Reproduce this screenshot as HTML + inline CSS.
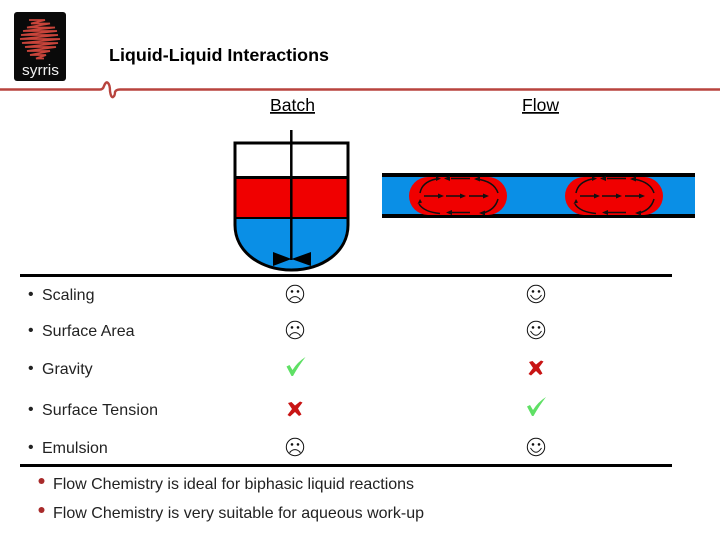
<!DOCTYPE html>
<html><head><meta charset="utf-8"><style>
html,body{margin:0;padding:0;background:#fff}
svg{display:block}
text{font-family:"Liberation Sans",sans-serif;fill:#000}
.r{font-size:16px;fill:#222}
</style></head><body>
<svg width="720" height="540" viewBox="0 0 720 540" xmlns="http://www.w3.org/2000/svg">
<defs>
<g id="face" fill="none" stroke="#111" stroke-width="1"><circle r="8.700"/><circle cx="-3" cy="-2.600" r=".8" fill="#111"/><circle cx="3" cy="-2.600" r=".8" fill="#111"/></g>
<g id="sad"><use href="#face"/><path d="M-5 6V5Q0 .2 5 5V6" fill="none" stroke="#111"/></g>
<g id="happy"><use href="#face"/><path d="M-5.500 1Q0 9.500 5.500 1" fill="none" stroke="#111"/></g>
<path id="chk" d="M0 9.500L3 8L6 13Q11 5 19 0Q12 9 6.500 19L5 19Z" fill="#5fe065"/>
<path id="x" d="M-7-6L-3.500-7L0-3.500L5-7.500L7.500-6.500L3-.5L6.500 5.500L4 7L0 3L-5 7.500L-7.500 6L-3 0Z" fill="#c81414"/>
<g id="blob">
<rect x="0" y="0" width="98" height="38" rx="19" fill="#f00000"/>
<g fill="none" stroke="#111" stroke-width="1.500">
<path d="M15 19H30M37 19H51M60 19H74"/>
<path d="M11 16Q13 5 27 2M42 1.500H61M67 2Q85 4 89 16M10 27Q15 35 31 36.500M43 35.500H61M74 36Q86 33 89 22"/>
</g>
<g fill="#111">
<path d="M29 16.500L35 19L29 21.500ZM51 16.500L57 19L51 21.500ZM74 16.500L80 19L74 21.500Z"/>
<path d="M41 -1L35 1.500L41 4ZM71 -.5L65 2L71 4.500ZM43 33L37 35.500L43 38ZM76 33.500L70 36L76 38.500Z"/>
<path d="M11 22L8.500 27L13 25.500ZM27 -.5L32 1.500L27 4Z"/>
</g>
</g>
</defs>

<!-- logo -->
<rect x="14" y="12" width="52" height="69" rx="3" fill="#0a0a0a"/>
<path d="M29 20H45L31 23.500H50L27 27.500H55L23 31H57L21 35H58L20 39H60L22 43H58L25 47H56L27 51H50L30 55H46L36 58.500H44" fill="none" stroke="#c8443a" stroke-width="1.800"/>
<text x="22" y="75" style="font-size:15px;fill:#f0f0f0" textLength="37" lengthAdjust="spacingAndGlyphs">syrris</text>

<!-- header rule -->
<path d="M0 89.500H100Q103 89.500 104 86Q106 81 108 83Q110 85 110 91Q111 98 113 97Q115 96 115 92Q116 89.500 120 89.500H720" fill="none" stroke="#b8443e" stroke-width="2.400"/>

<text x="109" y="61" style="font-size:17.500px;font-weight:bold" textLength="220" lengthAdjust="spacingAndGlyphs">Liquid-Liquid Interactions</text>
<text x="270" y="111" style="font-size:17.500px" text-decoration="underline" textLength="45" lengthAdjust="spacingAndGlyphs">Batch</text>
<text x="522" y="111" style="font-size:17.500px" text-decoration="underline" textLength="37" lengthAdjust="spacingAndGlyphs">Flow</text>

<!-- vessel -->
<rect x="235" y="178" width="113" height="40" fill="#f00000"/>
<path d="M235 218H348V225C348 252 322 270 291.500 270C261 270 235 252 235 225Z" fill="#0a8fe6"/>
<path d="M235 143H348V225C348 252 322 270 291.500 270C261 270 235 252 235 225Z" fill="none" stroke="#000" stroke-width="3"/>
<path d="M235 177.500H348" stroke="#000" stroke-width="3"/>
<path d="M235 218H348" stroke="#000" stroke-width="2"/>
<path d="M291.300 130V260" stroke="#000" stroke-width="2.500"/>
<path d="M273 252L291.500 259L311 252V266L291.500 259L273 266Z" fill="#000"/>

<!-- tube -->
<rect x="382" y="176" width="313" height="39" fill="#0a8fe6"/>
<rect x="382" y="173" width="313" height="4" fill="#000"/>
<rect x="382" y="214" width="313" height="4" fill="#000"/>
<use href="#blob" x="409" y="177"/>
<use href="#blob" x="565" y="177"/>

<!-- table rules -->
<rect x="20" y="274" width="652" height="3" fill="#000"/>
<rect x="20" y="464" width="652" height="3" fill="#000"/>

<!-- row labels -->
<text x="28" y="299" class="r">•</text><text x="42" y="300" class="r">Scaling</text>
<text x="28" y="335" class="r">•</text><text x="42" y="336" class="r">Surface Area</text>
<text x="28" y="373" class="r">•</text><text x="42" y="374" class="r">Gravity</text>
<text x="28" y="414" class="r">•</text><text x="42" y="415" class="r" textLength="116">Surface Tension</text>
<text x="28" y="452" class="r">•</text><text x="42" y="453" class="r">Emulsion</text>

<!-- marks -->
<use href="#sad" x="295" y="294"/><use href="#happy" x="536" y="294"/>
<use href="#sad" x="295" y="330"/><use href="#happy" x="536" y="330"/>
<use href="#chk" x="286.500" y="357"/><use href="#x" x="536" y="368"/>
<use href="#x" x="295" y="409"/><use href="#chk" x="527" y="397"/>
<use href="#sad" x="295" y="447"/><use href="#happy" x="536" y="447"/>

<!-- footer bullets -->
<circle cx="41.500" cy="481" r="3" fill="#a82a2a"/>
<circle cx="41.500" cy="510" r="3" fill="#a82a2a"/>
<text x="53" y="489" class="r" textLength="361">Flow Chemistry is ideal for biphasic liquid reactions</text>
<text x="53" y="518" class="r" textLength="371">Flow Chemistry is very suitable for aqueous work-up</text>
</svg>
</body></html>
